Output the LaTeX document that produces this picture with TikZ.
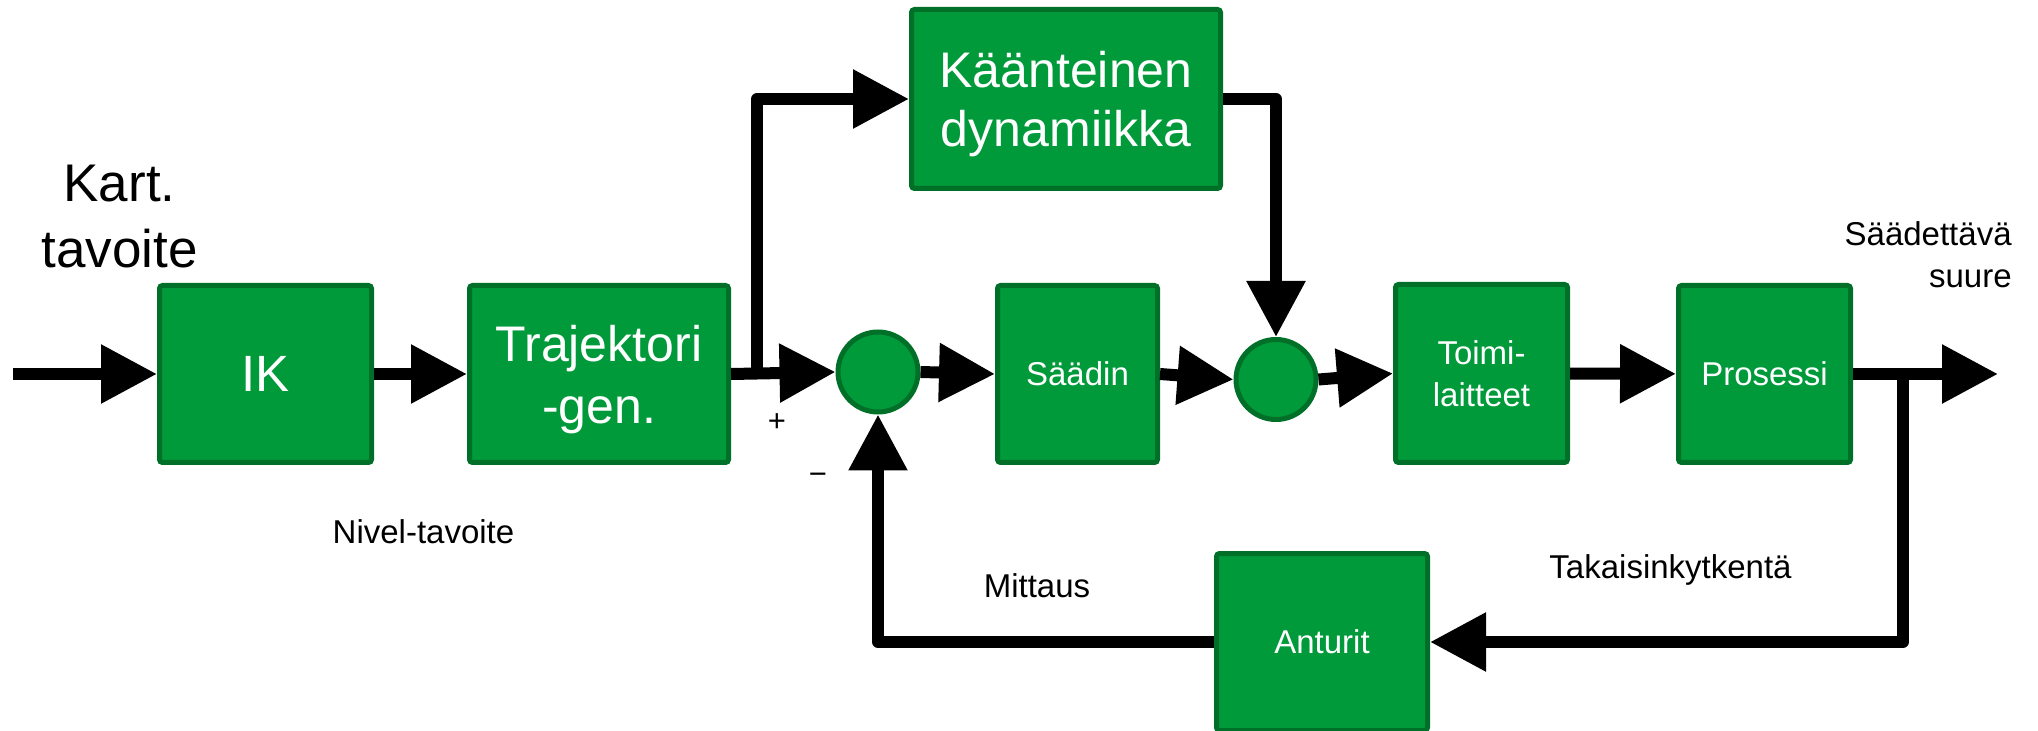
\documentclass[tikz,border=0pt]{standalone}
\usepackage{fontspec}
\setmainfont{Liberation Sans}
\usetikzlibrary{arrows.meta}
\definecolor{blockfill}{RGB}{0,154,58}
\definecolor{blockedge}{RGB}{0,112,40}

\begin{document}
\begin{tikzpicture}[x=0.5pt,y=-0.5pt,
  block/.style={draw=blockedge, fill=blockfill, line width=2.5pt,
    rounded corners=1.5pt, text=white, align=center, inner sep=0pt},
  junction/.style={circle, draw=blockedge, fill=blockfill, line width=2.5pt,
    minimum size=40pt, inner sep=0pt},
  bigtext/.style={font=\fontsize{25pt}{31pt}\selectfont},
  smalltext/.style={font=\fontsize{16.5pt}{21pt}\selectfont},
  flow/.style={line width=6pt, line join=round,
    -{Triangle[length=28pt,width=28pt]}},
  wire/.style={line width=6pt, line join=round},
  lbl/.style={inner sep=0pt, text=black}]

\useasboundingbox (0,0) rectangle (2038,731);

% blocks of the forward path
\node[block, font=\fontsize{25.5pt}{31pt}\selectfont,
  minimum width=106pt, minimum height=88.5pt] (ik) at (265.5,374) {IK};
\node[block, bigtext, text depth=0pt,
  minimum width=129.5pt, minimum height=88.5pt] (traj) at (599,374)
  {Trajektori\\-gen.};
\node[block, font=\fontsize{25pt}{29.5pt}\selectfont, text depth=0pt,
  minimum width=154.5pt, minimum height=89.5pt] (kaant) at (1066,99)
  {Käänteinen\\dynamiikka};
\node[junction] (sum1) at (878,372) {};
\node[block, smalltext,
  minimum width=80pt, minimum height=88.5pt] (saadin) at (1077.5,374) {Säädin};
\node[junction] (sum2) at (1276,379.5) {};
\node[block, smalltext,
  minimum width=86pt, minimum height=89pt] (toimi) at (1481.5,373.5)
  {Toimi-\\laitteet};
\node[block, smalltext,
  minimum width=86pt, minimum height=88.5pt] (pros) at (1764.5,374) {Prosessi};
\node[block, smalltext,
  minimum width=105.5pt, minimum height=88.5pt] (anturit) at (1322,642) {Anturit};

% free ends and branch points
\coordinate (in) at (13,374);
\coordinate (out) at (1998,374);
\coordinate (split) at (757,374);
\coordinate (fbsplit) at (1903,374);

% connectors
\draw[flow] (in) -- (ik);
\draw[flow] (ik) -- (traj);
\draw[flow] (traj.east) -- (sum1.west);
\draw[flow] (split) |- (kaant.west);
\draw[flow] (sum1.east) -- (saadin.west);
\draw[flow] (saadin.east) -- (sum2.west);
\draw[flow] (kaant.east) -| (sum2.north);
\draw[flow] (sum2.east) -- (toimi.west);
\draw[flow] (toimi) -- (pros);
\draw[flow] (pros.east) -- (out);
\draw[flow] (fbsplit) |- (anturit.east);
\draw[flow] (anturit.west) -| (sum1.south);

% labels
\node[lbl, font=\fontsize{26.5pt}{33pt}\selectfont, align=center,
  text depth=0pt, anchor=south] (goal) at (119.5,268) {Kart.\\tavoite};
\node[lbl, smalltext, anchor=base] (nivel) at (423.5,543) {Nivel-tavoite};
\node[lbl, smalltext, anchor=base] (mittaus) at (1037,597) {Mittaus};
\node[lbl, smalltext, anchor=base] (takais) at (1670.5,578) {Takaisinkytkentä};
\node[lbl, smalltext, align=right, text depth=0pt, anchor=south east]
  (suure) at (2012,288) {Säädettävä\\suure};
\node[lbl, font=\fontsize{15.5pt}{18pt}\selectfont] (plus) at (777,423) {+};
\node[lbl, font=\fontsize{15.5pt}{18pt}\selectfont] (minus) at (818,479) {−};
\end{tikzpicture}
\end{document}
